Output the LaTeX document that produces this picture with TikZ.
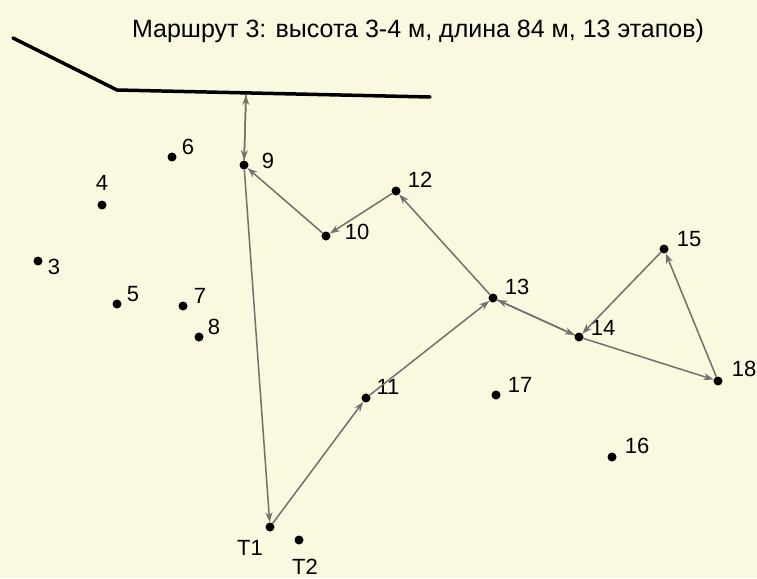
\documentclass[tikz,border=0pt]{standalone}
\usepackage{fontspec}
\setmainfont{Liberation Sans}
\usetikzlibrary{arrows.meta}
\definecolor{paper}{RGB}{250,248,222}
\definecolor{routegray}{RGB}{112,112,112}
\tikzset{
  dot/.style={circle,fill=black,inner sep=0pt,minimum size=9pt},
  lbl/.style={font=\fontsize{22}{26}\selectfont,inner sep=0pt},
  route/.style={draw=routegray,line width=1.5pt,-{Stealth[length=10pt,width=7pt]}},
  wall/.style={line width=3.5pt,line cap=round,line join=round},
}
\begin{document}
\begin{tikzpicture}[x=1pt,y=-1pt]
\fill[paper] (0,0) rectangle (757,578);
\useasboundingbox (0,0) rectangle (757,578);
% Title
\node[lbl,font=\fontsize{25}{30}\selectfont] (title) at (418,31) {Маршрут 3: высота 3-4 м, длина 84 м, 13 этапов)};
% Wall
\coordinate (w1) at (13,38);
\coordinate (w2) at (117,90);
\coordinate (w3) at (430,97);
\coordinate (w9) at (246,95);
\draw[wall] (w1) -- (w2) -- (w3);
% Points
\node[dot] (p3) at (38,261) {};
\node[dot] (p4) at (102,205) {};
\node[dot] (p5) at (117,304) {};
\node[dot] (p6) at (172,157) {};
\node[dot] (p7) at (183,306) {};
\node[dot] (p8) at (199,337) {};
\node[dot] (p9) at (244,165) {};
\node[dot] (p10) at (326,236) {};
\node[dot] (p11) at (366,398) {};
\node[dot] (p12) at (396,191) {};
\node[dot] (p13) at (493,298) {};
\node[dot] (p14) at (579,337) {};
\node[dot] (p15) at (664,249) {};
\node[dot] (p16) at (612,457) {};
\node[dot] (p17) at (496,395) {};
\node[dot] (p18) at (718,381) {};
\node[dot] (pT1) at (270,527) {};
\node[dot] (pT2) at (299,540) {};
% Labels
\node[lbl] (l3) at ([shift={(16,6)}]p3.center) {3};
\node[lbl] (l4) at ([shift={(0,-22)}]p4.center) {4};
\node[lbl] (l5) at ([shift={(16,-10)}]p5.center) {5};
\node[lbl] (l6) at ([shift={(16,-10)}]p6.center) {6};
\node[lbl] (l7) at ([shift={(17,-10)}]p7.center) {7};
\node[lbl] (l8) at ([shift={(15,-10)}]p8.center) {8};
\node[lbl] (l9) at ([shift={(24,-4)}]p9.center) {9};
\node[lbl] (l10) at ([shift={(31,-4)}]p10.center) {10};
\node[lbl] (l11) at ([shift={(22,-11)}]p11.center) {11};
\node[lbl] (l12) at ([shift={(24,-11)}]p12.center) {12};
\node[lbl] (l13) at ([shift={(24,-11)}]p13.center) {13};
\node[lbl] (l14) at ([shift={(24,-9)}]p14.center) {14};
\node[lbl] (l15) at ([shift={(25,-10)}]p15.center) {15};
\node[lbl] (l16) at ([shift={(25,-11)}]p16.center) {16};
\node[lbl] (l17) at ([shift={(24,-10)}]p17.center) {17};
\node[lbl] (l18) at ([shift={(26,-12)}]p18.center) {18};
\node[lbl] (lT1) at ([shift={(-20,21)}]pT1.center) {T1};
\node[lbl] (lT2) at ([shift={(6,27)}]pT2.center) {T2};
% Route, 13 stages
\draw[route] (pT1) -- (p11);
\draw[route] (p11) -- (p13);
\draw[route] (p13) -- (p14);
\draw[route] (p14) -- (p18);
\draw[route] (p18) -- (p15);
\draw[route] (p15) -- (p14);
\draw[route] (p14) -- (p13);
\draw[route] (p13) -- (p12);
\draw[route] (p12) -- (p10);
\draw[route] (p10) -- (p9);
\draw[route] (p9) -- (w9);
\draw[route] (w9) -- (p9);
\draw[route] (p9) -- (pT1);
\end{tikzpicture}
\end{document}
